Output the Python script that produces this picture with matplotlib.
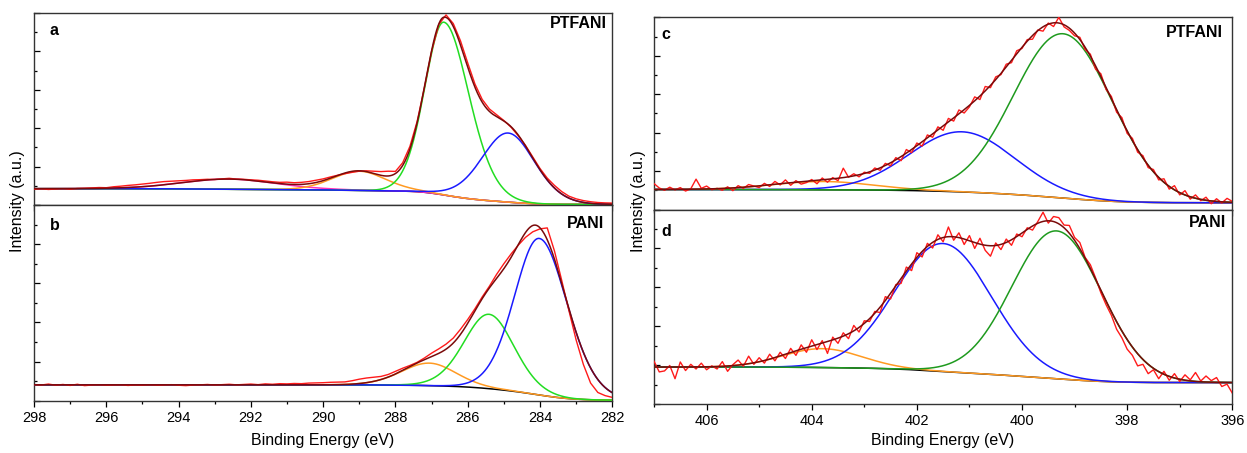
import numpy as np
import matplotlib
matplotlib.use("Agg")
import matplotlib.pyplot as plt
from matplotlib.ticker import MultipleLocator, NullFormatter

plt.rcParams['font.family'] = ['Liberation Sans', 'DejaVu Sans']

# ---- C 1s, energies of the measured points (eV)
c1s_energy = np.round(np.arange(298.0, 281.99, -0.2), 1)

a_raw = [8.2, 8.4, 8.1, 8.3, 8.5, 8.2, 8.6, 8.7, 8.9, 9.1, 9.0, 9.5, 9.8, 10.2, 10.5, 10.9,
         11.3, 11.8, 12.2, 12.4, 12.6, 12.8, 13.1, 13.2, 13.4, 13.3, 13.6, 13.9, 13.5, 13.4,
         13.1, 12.9, 12.5, 12.1, 11.8, 11.9, 11.6, 11.8, 12.2, 12.9, 13.6, 14.6, 15.5, 16.3,
         17.0, 17.6, 17.8, 17.6, 17.4, 17.6, 17.5, 22.0, 30.5, 43.5, 61.0, 80.0, 94.0, 99.0,
         94.5, 85.5, 74.0, 63.0, 55.0, 50.0, 47.0, 44.0, 40.5, 36.0, 31.0, 25.0, 19.0, 14.0,
         10.2, 7.0, 4.6, 3.2, 2.3, 1.7, 1.3, 1.1, 1.0]
b_raw = [8.2, 8.0, 8.5, 7.9, 8.3, 7.8, 8.4, 7.7, 8.0, 8.1, 7.9, 8.0, 8.1, 7.8, 8.0, 7.9,
         8.1, 7.9, 8.0, 8.2, 7.9, 7.7, 8.0, 8.1, 8.3, 8.0, 8.2, 8.4, 8.1, 8.3, 8.5, 8.2,
         8.6, 8.4, 8.7, 8.6, 8.8, 8.7, 9.0, 9.1, 9.2, 9.4, 9.5, 9.6, 10.2, 11.0, 11.6, 12.0,
         12.4, 13.4, 15.0, 16.6, 18.0, 19.6, 21.8, 24.3, 26.5, 28.9, 32.0, 36.5, 41.5, 47.0,
         53.0, 58.5, 64.6, 70.0, 75.0, 79.5, 83.5, 86.3, 87.8, 88.3, 76.5, 61.5, 46.0, 31.0,
         18.5, 9.0, 4.2, 2.6, 1.7]

# ---- N 1s, energies of the measured points (eV)
n1s_energy = np.round(np.arange(407.0, 395.99, -0.1), 1)

c_raw = [13.5, 11.2, 10.0, 11.6, 10.2, 11.4, 9.6, 10.8, 15.8, 11.0, 12.2, 10.3, 11.0, 10.0,
         11.8, 9.8, 12.4, 11.0, 13.0, 12.2, 11.4, 13.6, 12.0, 14.6, 12.8, 15.4, 12.6, 15.0,
         13.2, 14.0, 15.6, 13.4, 16.4, 14.2, 16.6, 15.0, 21.5, 16.8, 18.6, 17.0, 19.4, 18.8,
         21.6, 20.4, 24.0, 22.8, 27.0, 25.4, 31.2, 29.6, 34.6, 33.0, 38.8, 37.6, 43.0, 41.2,
         47.4, 46.0, 51.8, 50.2, 53.4, 58.6, 57.2, 64.0, 63.4, 69.0, 70.2, 75.6, 76.4, 82.6,
         83.8, 88.4, 88.6, 93.4, 92.8, 97.0, 95.2, 100.0, 95.0, 93.2, 90.4, 89.6, 83.2, 80.8,
         73.0, 70.6, 62.4, 58.8, 50.6, 47.8, 39.6, 37.0, 29.8, 28.0, 21.8, 20.8, 15.4, 16.0,
         10.6, 12.4, 7.6, 9.8, 5.4, 7.6, 4.6, 6.4, 3.0, 5.6, 3.4, 5.8, 4.2]
d_raw = [22.0, 16.5, 17.0, 19.8, 13.0, 21.6, 17.2, 20.4, 18.0, 21.0, 17.6, 19.6, 18.0, 21.8,
         16.8, 20.2, 22.6, 19.4, 24.6, 20.4, 23.8, 21.0, 25.6, 22.2, 26.6, 23.4, 28.6, 25.0,
         30.4, 26.6, 33.0, 28.0, 32.6, 26.0, 34.4, 31.2, 36.6, 33.6, 40.4, 37.0, 42.8, 42.4,
         47.6, 47.0, 55.2, 54.0, 61.4, 62.0, 70.4, 68.6, 77.8, 75.6, 82.6, 80.2, 87.0, 83.4,
         91.0, 84.2, 88.0, 82.0, 86.6, 80.0, 85.2, 79.0, 76.0, 82.8, 79.4, 84.8, 81.6, 87.4,
         86.0, 90.6, 89.4, 93.8, 98.6, 93.0, 96.4, 95.8, 92.0, 91.8, 85.6, 83.0, 75.4, 71.6,
         64.8, 57.2, 51.0, 45.6, 38.4, 34.0, 28.2, 25.0, 19.6, 20.4, 15.6, 17.6, 13.0, 16.8,
         12.2, 15.6, 11.6, 15.0, 12.4, 16.2, 11.8, 14.4, 12.0, 13.6, 9.0, 10.2, 5.6]

# ---- fitted components: centre (eV), height (a.u.),
# fwhm on the high-BE side and on the low-BE side (eV)
a_centers = [292.6, 289.0, 286.66, 284.88]
a_heights = [5.3, 10.0, 90.0, 36.0]
a_fwhm_hi = [3.2, 1.8, 1.3, 1.8]
a_fwhm_lo = [3.2, 1.8, 1.7, 1.8]
a_colors = ['#ff33bb', '#ff9a22', '#22dd22', '#1a1aff']

b_centers = [287.06, 285.41, 284.02]
b_heights = [11.5, 38.0, 80.0]
b_fwhm_hi = [1.9, 1.7, 1.7]
b_fwhm_lo = [1.8, 1.7, 1.9]
b_colors = ['#ff9a22', '#22dd22', '#1a1aff']

c_centers = [403.78, 401.14, 399.22]
c_heights = [4.3, 31.3, 85.5]
c_fwhm_hi = [2.24, 2.35, 2.21]
c_fwhm_lo = [2.24, 2.35, 2.21]
c_colors = ['#ff9a22', '#1a1aff', '#1e9a1e']

d_centers = [403.8, 401.5, 399.34]
d_heights = [9.7, 65.8, 76.0]
d_fwhm_hi = [1.77, 2.17, 2.0]
d_fwhm_lo = [1.77, 2.17, 2.0]
d_colors = ['#ff9a22', '#1a1aff', '#1e9a1e']

# Shirley background end levels (low-BE side, high-BE side)
bg_levels = {'a': (0.3, 8.5), 'b': (0.3, 8.1), 'c': (3.5, 10.4), 'd': (11.0, 19.0)}
# Lorentzian share of the GL(product) line shape
gl_mix = {'a': 0.3, 'b': 0.3, 'c': 0.0, 'd': 0.0}

sample_names = {'a': 'PTFANI', 'b': 'PANI', 'c': 'PTFANI', 'd': 'PANI'}


def gl_peak(x, c, h, w_hi, w_lo, m):
    w = np.where(x >= c, w_hi, w_lo)
    u2 = ((x - c) / w) ** 2
    return h * np.exp(-4 * np.log(2) * (1 - m) * u2) / (1 + 4 * m * u2)


def draw_panel(ax, key, raw_x, raw_y, cs, hs, whi, wlo, cols, xlim):
    x = np.linspace(min(xlim), max(xlim), 1601)
    comps = [gl_peak(x, c, h, a, b, gl_mix[key]) for c, h, a, b in zip(cs, hs, whi, wlo)]
    total = np.sum(comps, axis=0)
    cum = np.concatenate([[0], np.cumsum((total[1:] + total[:-1]) / 2 * np.diff(x))])
    lo, hi = bg_levels[key]
    bg = lo + (hi - lo) * cum / cum[-1]

    ax.plot(x, bg, color='black', lw=1.1, zorder=2)
    for comp, col in zip(comps, cols):
        ax.plot(x, bg + comp, color=col, lw=1.1, zorder=3)
    ax.plot(raw_x, raw_y, color='#ff1a1a', lw=1.0, zorder=4)
    ax.plot(x, bg + total, color='#7a0a0a', lw=1.1, zorder=5)

    ax.set_xlim(*xlim)
    ax.set_ylim(0, 100)
    ax.xaxis.set_major_locator(MultipleLocator(2))
    ax.xaxis.set_minor_locator(MultipleLocator(1))
    ax.yaxis.set_major_locator(MultipleLocator(20))
    ax.yaxis.set_minor_locator(MultipleLocator(10))
    ax.yaxis.set_major_formatter(NullFormatter())
    ax.tick_params(axis='x', which='major', direction='out', length=4.5, width=0.9,
                   labelsize=10.5, pad=3)
    ax.tick_params(axis='x', which='minor', direction='out', length=2.5, width=0.9)
    ax.tick_params(axis='y', which='major', direction='in', length=4, width=0.9)
    ax.tick_params(axis='y', which='minor', direction='in', length=2.2, width=0.9)
    for sp in ax.spines.values():
        sp.set_color('#333333')
        sp.set_linewidth(1.0)


W, H = 1247, 453
fig = plt.figure(figsize=(W / 100, H / 100), dpi=100)

ax_a = fig.add_axes([34 / W, 1 - 205 / H, 578.3 / W, 192 / H])
ax_b = fig.add_axes([34 / W, 1 - 400.7 / H, 578.3 / W, 195.7 / H])
ax_c = fig.add_axes([654 / W, 1 - 209.5 / H, 578.3 / W, 192.2 / H])
ax_d = fig.add_axes([654 / W, 1 - 404 / H, 578.3 / W, 194.5 / H])

draw_panel(ax_a, 'a', c1s_energy, a_raw, a_centers, a_heights, a_fwhm_hi, a_fwhm_lo,
           a_colors, (298, 282))
draw_panel(ax_b, 'b', c1s_energy, b_raw, b_centers, b_heights, b_fwhm_hi, b_fwhm_lo,
           b_colors, (298, 282))
draw_panel(ax_c, 'c', n1s_energy, c_raw, c_centers, c_heights, c_fwhm_hi, c_fwhm_lo,
           c_colors, (407, 396))
draw_panel(ax_d, 'd', n1s_energy, d_raw, d_centers, d_heights, d_fwhm_hi, d_fwhm_lo,
           d_colors, (407, 396))

for ax in (ax_a, ax_c):
    ax.xaxis.set_major_formatter(NullFormatter())

# panel letters and sample names
letter_pos = {'a': (0.035, 0.91), 'b': (0.036, 0.893), 'c': (0.021, 0.908), 'd': (0.021, 0.887)}
name_pos = {'a': (0.99, 0.943), 'b': (0.985, 0.908), 'c': (0.984, 0.92), 'd': (0.99, 0.934)}
for key, ax in zip('abcd', (ax_a, ax_b, ax_c, ax_d)):
    ax.text(*letter_pos[key], key, transform=ax.transAxes, fontsize=11.5,
            fontweight='bold', ha='center', va='center')
    ax.text(*name_pos[key], sample_names[key], transform=ax.transAxes, fontsize=11.5,
            fontweight='bold', ha='right', va='center')

for xc in (18, 638):
    fig.text(xc / W, 1 - 201 / H, 'Intensity (a.u.)', rotation=90, ha='center',
             va='center', fontsize=11.5)
for xc in (323, 943):
    fig.text(xc / W, 1 - 441 / H, 'Binding Energy (eV)', ha='center', va='center',
             fontsize=11.5)

fig.savefig('out.png', dpi=100)
